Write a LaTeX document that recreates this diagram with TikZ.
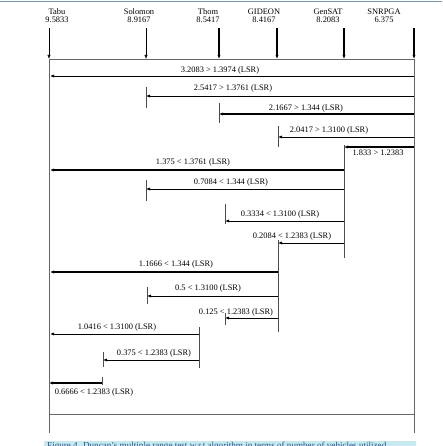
\documentclass[tikz,border=0pt]{standalone}
\usepackage{fontspec}
\setmainfont{Liberation Serif}
\usetikzlibrary{arrows.meta}
\definecolor{capfill}{RGB}{200,233,239}
\definecolor{captext}{RGB}{35,85,140}
\definecolor{toprule}{RGB}{120,150,172}
\begin{document}
\begin{tikzpicture}[x=1pt,y=-1pt,
	hull/.style={draw=black!60,line width=0.6pt},
	bartick/.style={draw=black!70,line width=0.6pt},
	cmp/.style={-{Latex[length=4pt,width=3.2pt]},line width=0.8pt},
	cmpbold/.style={cmp,line width=1.3pt}]
			\newcommand{\myfontvars}[1]{
				\fontsize{8.4}{10}\selectfont{#1}
			}\newcommand{\myfontcaption}[1]{
				\fontsize{9.1}{11}\selectfont{#1}
			}%Page size
			\useasboundingbox (0,0) rectangle (442,446);
			\draw[toprule,line width=0.8pt] (0,1) -- (442,1);
			%Algorithms and their means
			\foreach \n/\v/\tx/\ax/\lw in {Tabu/9.5833/57/49/0.6,Solomon/8.9167/139/146/0.6,Thom/8.5417/208/219/1.1,GIDEON/8.4167/264/277/1.1,GenSAT/8.2083/328/344/1.1,SNRPGA/6.375/384/414/1.1} {
				\node (n\n) at (\tx,12) {\myfontvars{\n}};
				\node (v\n) at (\tx,20) {\myfontvars{\v}};
				\coordinate (a\n) at (\ax,28);
				\coordinate (b\n) at (\ax,59);
				\draw [cmp,line width=\lw pt] (a\n) -- (b\n);
			}
			%Outer hull
			\coordinate (hl0) at (49,59);
			\coordinate (hr0) at (414,59);
			\coordinate (hl1) at (49,414);
			\coordinate (hr1) at (414,414);
			\coordinate (hl2) at (49,433);
			\coordinate (hr2) at (414,433);
			\draw [hull] (hl0) -- (hr0);
			\draw [hull] (hl0) -- (hl2);
			\draw [hull] (hr0) -- (hr2);
			\draw [hull] (hl1) -- (hr1);
			%Comparisons against SNRPGA
			\coordinate (s1) at (414,76);
			\coordinate (d1) at (50,76);
			\draw [cmp] (s1) -- (d1);
			\node (l1) at (220,70) {\myfontvars{3.2083 > 1.3974 (LSR)}};
			\coordinate (s2) at (414,96);
			\coordinate (d2) at (146,96);
			\draw [bartick] (146,87) -- (146,108);
			\draw [cmp] (s2) -- (d2);
			\node (l2) at (233,88) {\myfontvars{2.5417 > 1.3761 (LSR)}};
			\coordinate (s3) at (414,114);
			\coordinate (d3) at (219,114);
			\draw [bartick] (219,103) -- (219,123);
			\draw [cmpbold] (s3) -- (d3);
			\node (l3) at (306,108) {\myfontvars{2.1667 > 1.344 (LSR)}};
			\coordinate (s4) at (414,137);
			\coordinate (d4) at (278,137);
			\draw [bartick] (278,126) -- (278,147);
			\draw [cmp] (s4) -- (d4);
			\node (l4) at (329,130) {\myfontvars{2.0417 > 1.3100 (LSR)}};
			\coordinate (s5) at (414,147);
			\coordinate (d5) at (344,147);
			\draw [cmpbold] (s5) -- (d5);
			\node (l5) at (378,153) {\myfontvars{1.833 > 1.2383}};
			%Comparisons against GenSAT
			\coordinate (g0) at (344,145);
			\coordinate (g1) at (344,258);
			\draw [bartick] (g0) -- (g1);
			\coordinate (s6) at (344,170);
			\coordinate (d6) at (50,170);
			\draw [cmpbold] (s6) -- (d6);
			\node (l6) at (193,162) {\myfontvars{1.375 < 1.3761 (LSR)}};
			\coordinate (s7) at (344,189);
			\coordinate (d7) at (146,189);
			\draw [bartick] (146,180) -- (146,201);
			\draw [cmp] (s7) -- (d7);
			\node (l7) at (231,182) {\myfontvars{0.7084 < 1.344 (LSR)}};
			\coordinate (s8) at (344,221);
			\coordinate (d8) at (225,221);
			\draw [bartick] (225,204) -- (225,224);
			\draw [cmp] (s8) -- (d8);
			\node (l8) at (280,214) {\myfontvars{0.3334 < 1.3100 (LSR)}};
			\coordinate (s9) at (344,243);
			\coordinate (d9) at (278,243);
			\draw [cmp] (s9) -- (d9);
			\node (l9) at (292,236) {\myfontvars{0.2084 < 1.2383 (LSR)}};
			%Comparisons against GIDEON
			\coordinate (k0) at (278,240);
			\coordinate (k1) at (278,332);
			\draw [bartick] (k0) -- (k1);
			\coordinate (s10) at (278,272);
			\coordinate (d10) at (50,272);
			\draw [cmpbold] (s10) -- (d10);
			\node (l10) at (176,264) {\myfontvars{1.1666 < 1.344 (LSR)}};
			\coordinate (s11) at (278,296);
			\coordinate (d11) at (147,296);
			\draw [bartick] (147,287) -- (147,304);
			\draw [cmp] (s11) -- (d11);
			\node (l11) at (208,288) {\myfontvars{0.5 < 1.3100 (LSR)}};
			\coordinate (s12) at (278,318);
			\coordinate (d12) at (225,318);
			\draw [bartick] (225,313) -- (225,325);
			\draw [cmp] (s12) -- (d12);
			\node (l12) at (236,312) {\myfontvars{0.125 < 1.2383 (LSR)}};
			%Comparisons against Thom
			\coordinate (t0) at (199,327);
			\coordinate (t1) at (199,368);
			\draw [bartick] (t0) -- (t1);
			\coordinate (s13) at (199,334);
			\coordinate (d13) at (50,334);
			\draw [cmp] (s13) -- (d13);
			\node (l13) at (117,327) {\myfontvars{1.0416 < 1.3100 (LSR)}};
			\coordinate (s14) at (199,360);
			\coordinate (d14) at (103,360);
			\draw [bartick] (103,352) -- (103,367);
			\draw [cmp] (s14) -- (d14);
			\node (l14) at (154,353) {\myfontvars{0.375 < 1.2383 (LSR)}};
			%Comparison against Solomon
			\coordinate (s15) at (102,383);
			\coordinate (d15) at (49,383);
			\draw [bartick] (102,377) -- (102,385);
			\draw [cmpbold] (s15) -- (d15);
			\node (l15) at (94,392) {\myfontvars{0.6666 < 1.2383 (LSR)}};
			%Caption
			\fill [capfill] (44,440.5) rectangle (416,458);
			\node (cap) [anchor=base west,text=captext,inner sep=0pt] at (47,448.8) {\myfontcaption{Figure 4. Duncan's multiple range test w.r.t algorithm in terms of number of vehicles utilized.}};
\end{tikzpicture}
\end{document}
